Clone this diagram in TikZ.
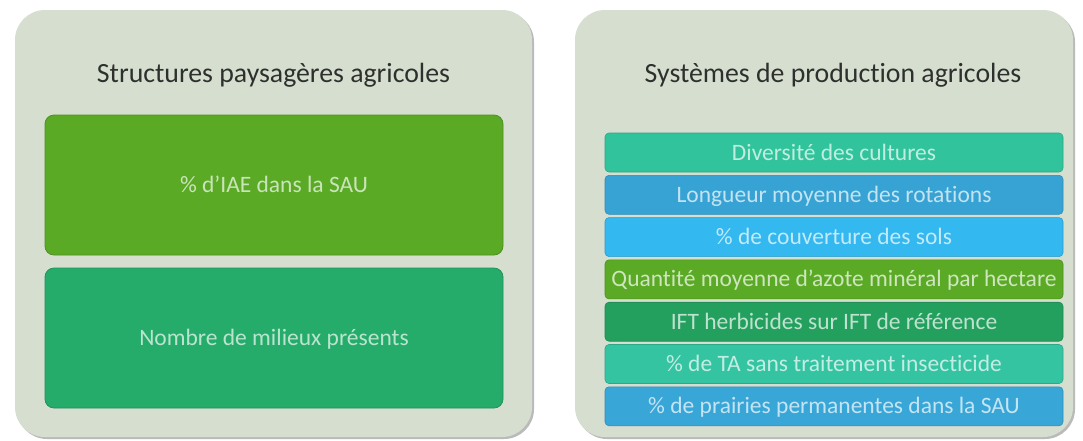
\documentclass[tikz,border=0pt]{standalone}
\usepackage{fontspec}
\setmainfont{Carlito}[Ligatures={NoCommon}]
\usetikzlibrary{shadows}
\definecolor{panelbg}{RGB}{214,222,208}
\definecolor{titlecol}{RGB}{45,48,45}
\definecolor{cOlive}{RGB}{91,170,38}
\definecolor{cGreen}{RGB}{38,172,106}
\definecolor{cTeal}{RGB}{49,196,156}
\definecolor{cBlue}{RGB}{55,163,212}
\definecolor{cSky}{RGB}{51,184,240}
\definecolor{cDkGreen}{RGB}{36,160,94}
\definecolor{cTeal2}{RGB}{53,196,162}
\definecolor{cBlue2}{RGB}{57,166,216}
\tikzset{
  x=1pt, y=-1pt,
  panel/.style={fill=panelbg, rounded corners=30pt, inner sep=0pt,
    drop shadow={shadow xshift=2pt, shadow yshift=-2pt, fill=black!45, opacity=0.6}},
  paneltitle/.style={anchor=base, text=titlecol, font=\fontsize{27.8}{32}\selectfont, inner sep=0pt},
  bigbox/.style={fill=#1, draw=#1!85!black, line width=0.8pt, rounded corners=9pt,
    minimum width=458pt, minimum height=140pt, inner sep=0pt,
    text=#1!32!white, font=\fontsize{23.5}{27}\selectfont,
    text height=15pt, text depth=0pt},
  strip/.style={fill=#1, draw=#1!85!black, line width=0.6pt, rounded corners=4pt,
    minimum width=458pt, minimum height=39pt, inner sep=0pt,
    text=#1!30!white, font=\fontsize{23.5}{27}\selectfont,
    text height=15pt, text depth=0pt}
}
\begin{document}
\begin{tikzpicture}
\useasboundingbox[fill=white] (0,0) rectangle (1083,440);
% panels
\node[panel, minimum width=517pt, minimum height=427pt] (pl) at (273.5,223.5) {};
\node[panel, minimum width=498pt, minimum height=427pt] (pr) at (824,223.5) {};
% titles
\node[paneltitle] (tl) at (273.5,82) {Structures paysagères agricoles};
\node[paneltitle] (tr) at (833,82) {Systèmes de production agricoles};
% left boxes
\node[bigbox=cOlive] (b1) at (274,185) {\% d’IAE dans la SAU};
\node[bigbox=cGreen] (b2) at (274,338) {Nombre de milieux présents};
% right strips
\node[strip=cTeal]    (s1) at (834,152.5) {Diversité des cultures};
\node[strip=cBlue]    (s2) at (834,194.8) {Longueur moyenne des rotations};
\node[strip=cSky]     (s3) at (834,237.1) {\% de couverture des sols};
\node[strip=cOlive]   (s4) at (834,279.4) {Quantité moyenne d’azote minéral par hectare};
\node[strip=cDkGreen] (s5) at (834,321.7) {IFT herbicides sur IFT de référence};
\node[strip=cTeal2]   (s6) at (834,364.0) {\% de TA sans traitement insecticide};
\node[strip=cBlue2]   (s7) at (834,406.3) {\% de prairies permanentes dans la SAU};
\end{tikzpicture}
\end{document}
